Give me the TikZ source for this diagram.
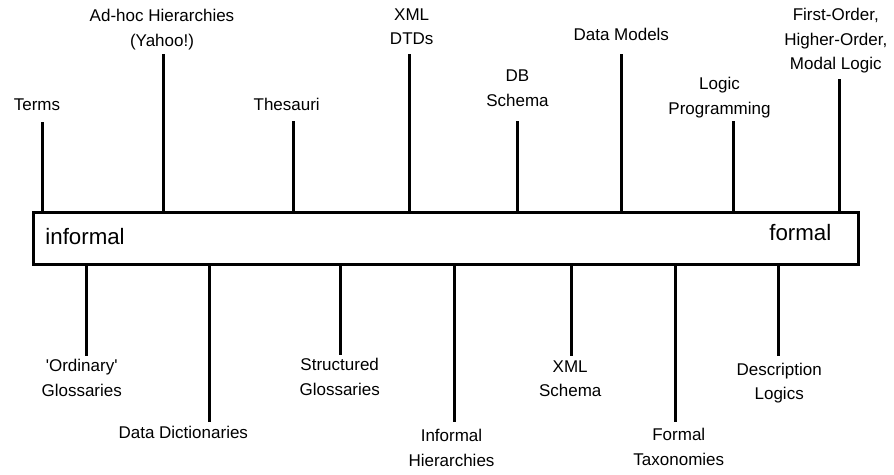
\documentclass[tikz,border=0pt]{standalone}
\usepackage{fontspec}
\setmainfont{Liberation Sans}
\begin{document}
\begin{tikzpicture}[x=1pt,y=-1pt,
  tick/.style={line width=3pt},
  lbl/.style={anchor=north,inner sep=0pt,align=center,font=\fontsize{17}{24.5}\selectfont},
  endtag/.style={inner sep=0pt,font=\fontsize{22.3}{26}\selectfont}]
\useasboundingbox (0,0) rectangle (894,474);

% the informal-to-formal scale
\node[draw,line width=3pt,minimum width=825pt,minimum height=52pt,inner sep=0pt] (bar) at (445.8,238.3) {};
\node[endtag,anchor=base west] (informal) at (45.2,244) {informal};
\node[endtag,anchor=base east] (formal) at (831.5,240) {formal};

% free ends of the ticks above the scale
\coordinate (tTerms) at (42,122);
\coordinate (tAdhoc) at (163,54);
\coordinate (tThes) at (293,121);
\coordinate (tDTD) at (409,54);
\coordinate (tDB) at (517,121);
\coordinate (tDM) at (621,54);
\coordinate (tLP) at (733,121);
\coordinate (tFOL) at (839,79);

% free ends of the ticks below the scale
\coordinate (bOrd) at (86,356);
\coordinate (bDD) at (209,422);
\coordinate (bSG) at (340,355);
\coordinate (bIH) at (454,422);
\coordinate (bXS) at (571,356);
\coordinate (bFT) at (675,422);
\coordinate (bDL) at (778,356);

\foreach \p in {tTerms,tAdhoc,tThes,tDTD,tDB,tDM,tLP,tFOL}
  \draw[tick] (bar.north -| \p) -- (\p);
\foreach \p in {bOrd,bDD,bSG,bIH,bXS,bFT,bDL}
  \draw[tick] (bar.south -| \p) -- (\p);

% labels above
\node[lbl] (lTerms) at (37,93.35) {\strut Terms};
\node[lbl] (lAdhoc) at (162,4.35) {\strut Ad-hoc Hierarchies\\\strut (Yahoo!)};
\node[lbl] (lThes) at (286.7,92.85) {\strut Thesauri};
\node[lbl] (lDTD) at (411.7,2.85) {\strut XML\\\strut DTDs};
\node[lbl] (lDB) at (517.5,64.35) {\strut DB\\\strut Schema};
\node[lbl] (lDM) at (621.3,23.35) {\strut Data Models};
\node[lbl] (lLP) at (719.5,72.35) {\strut Logic\\\strut Programming};
\node[lbl] (lFOL) at (835.8,3.35) {\strut First-Order,\\\strut Higher-Order,\\\strut Modal Logic};

% labels below
\node[lbl] (lOrd) at (81.7,354.35) {\strut \textquotesingle Ordinary\textquotesingle\\\strut Glossaries};
\node[lbl] (lDD) at (183.3,420.85) {\strut Data Dictionaries};
\node[lbl] (lSG) at (339.7,353.35) {\strut Structured\\\strut Glossaries};
\node[lbl] (lIH) at (451.5,424.35) {\strut Informal\\\strut Hierarchies};
\node[lbl] (lXS) at (570.2,354.85) {\strut XML\\\strut Schema};
\node[lbl] (lFT) at (678.8,423.35) {\strut Formal\\\strut Taxonomies};
\node[lbl] (lDL) at (779.2,357.85) {\strut Description\\\strut Logics};
\end{tikzpicture}
\end{document}
